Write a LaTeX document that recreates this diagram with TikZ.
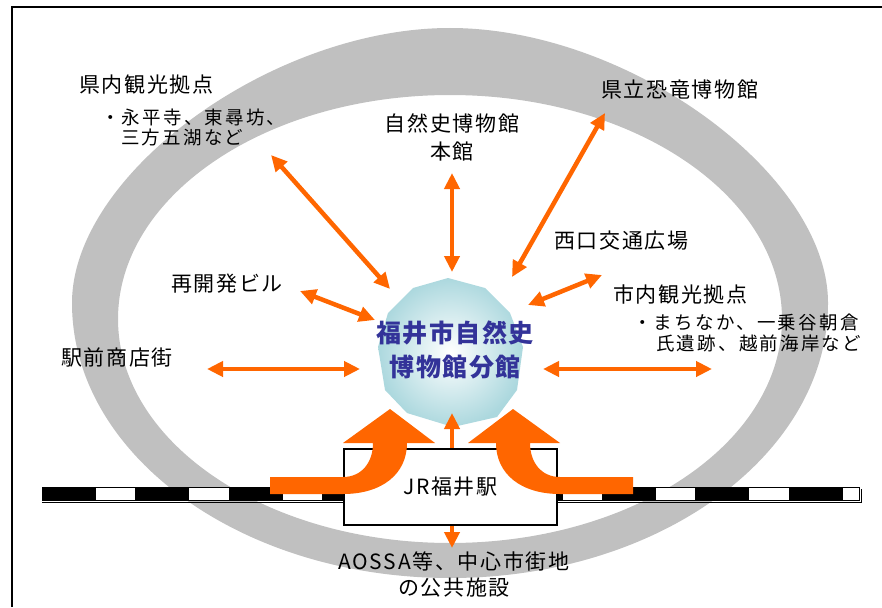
\documentclass[tikz,border=0pt]{standalone}
\usepackage{fontspec}
\setmainfont{Noto Sans CJK JP}
\newfontfamily\jpmain[LetterSpace=8]{Noto Sans CJK JP}
\newfontfamily\jpsub[LetterSpace=12]{Noto Sans CJK JP}
\newfontfamily\jptitle[LetterSpace=6]{Noto Sans CJK JP}
\usetikzlibrary{arrows.meta}
\definecolor{ora}{RGB}{255,102,0}
\definecolor{ringgray}{RGB}{192,192,192}
\definecolor{titleblue}{RGB}{51,51,153}
\definecolor{polyedge}{RGB}{172,216,222}
\tikzset{
  twoway/.style={draw=ora, line width=4.5pt, {Triangle[width=15pt,length=16pt]}-{Triangle[width=15pt,length=16pt]}},
  mainlbl/.style={font=\jpmain\fontsize{21}{24}\selectfont, inner sep=0pt, text=black},
  sublbl/.style={font=\jpsub\fontsize{18.5}{22}\selectfont, inner sep=0pt, text=black},
}
\begin{document}
\begin{tikzpicture}[x=1pt,y=-1pt]
\useasboundingbox (0,0) rectangle (882,607);
\fill[white] (0,0) rectangle (882,607);
% frame
\draw[line width=2pt] (12,607) -- (12,7) -- (882,7);
% ring
\fill[ringgray, even odd rule]
  (72,303) .. controls (72,173.75) and (272.3,28) .. (450,28)
  .. controls (627.7,28) and (828,173.75) .. (828,303)
  .. controls (828,454.9) and (658.8,578) .. (450,578)
  .. controls (241.2,578) and (72,454.9) .. (72,303) -- cycle
  (118,319) .. controls (118,195.3) and (266.6,95) .. (450,95)
  .. controls (633.4,95) and (782,195.3) .. (782,319)
  .. controls (782,442.7) and (633.4,543) .. (450,543)
  .. controls (266.6,543) and (118,442.7) .. (118,319) -- cycle;
% railway
\draw[line width=1pt] (42,502.2) -- (861,502.2) -- (861,489);
\draw[line width=1pt, fill=white] (42,487) rectangle (859,500);
\foreach \k in {0,...,8} {
  \fill[black] ({42+93.33*\k},487) rectangle ({96+93.33*\k},500);
}
% central polygon
\shade[inner color=white, outer color=polyedge]
  (448,278) -- (485,288) -- (510,313) -- (523,347) -- (517,390) -- (497,417) --
  (453,427) -- (407,413) -- (385,390) -- (378,347) -- (388,313) -- (413,288) -- cycle;
% coordinates for connector ends
\coordinate (hubS) at (452,413);
\coordinate (aossaN) at (452,548);
\draw[twoway] (hubS) -- (aossaN);
% station
\node[draw, line width=1.5pt, fill=white, minimum width=213pt, minimum height=76pt, inner sep=0pt,
      font=\jpmain\fontsize{21}{24}\selectfont] (station) at (450.5,487) {JR福井駅};
% curved arrows from the tracks
\fill[ora] (270,477) -- (343,477) .. controls (362,477) and (373,462) .. (373,443) -- (343,443) --
  (390,409) -- (435,443) -- (407,443) .. controls (407,474) and (382,494) .. (343,494) -- (270,494) -- cycle;
\fill[ora] (633,477) -- (560,477) .. controls (541,477) and (530,462) .. (530,443) -- (560,443) --
  (513,409) -- (468,443) -- (496,443) .. controls (496,474) and (521,494) .. (560,494) -- (633,494) -- cycle;
% hub title
\node[font=\jptitle\bfseries\fontsize{25}{34}\selectfont, text=titleblue, align=center, inner sep=0pt]
  (hub) at (455,350) {福井市自然史\\博物館分館};
% labels
\node[mainlbl, anchor=west] (kennai) at (79,85) {県内観光拠点};
\node[sublbl, anchor=west] (kennai1) at (101,117) {・永平寺、東尋坊、};
\node[sublbl, anchor=west] (kennai2) at (121,137) {三方五湖など};
\node[mainlbl] (honkan1) at (452,123) {自然史博物館};
\node[mainlbl] (honkan2) at (452,152) {本館};
\node[mainlbl, anchor=west] (kyoryu) at (601,90) {県立恐竜博物館};
\node[mainlbl, anchor=west] (nishiguchi) at (554,241) {西口交通広場};
\node[mainlbl, anchor=west] (saikaihatsu) at (171,284) {再開発ビル};
\node[mainlbl, anchor=west] (shinai) at (613,294) {市内観光拠点};
\node[sublbl, anchor=west] (shinai1) at (633,322) {・まちなか、一乗谷朝倉};
\node[sublbl, anchor=west] (shinai2) at (656,343) {氏遺跡、越前海岸など};
\node[mainlbl, anchor=west] (ekimae) at (61,358) {駅前商店街};
\node[mainlbl] (aossa1) at (454,561) {AOSSA等、中心市街地};
\node[mainlbl] (aossa2) at (454,588) {の公共施設};
% connector ends
\coordinate (kennaiE) at (271,155);
\coordinate (hubNW) at (390,289);
\coordinate (honkanS) at (452,173);
\coordinate (hubN) at (452,272);
\coordinate (kyoryuE) at (605,113);
\coordinate (hubNE) at (512,277);
\coordinate (nishiE) at (602,275);
\coordinate (hubE1) at (528,305);
\coordinate (saiE) at (300,291);
\coordinate (hubW1) at (375,320);
\coordinate (ekimaeE) at (207,369);
\coordinate (hubW) at (360,369);
\coordinate (hubE) at (543,369);
\coordinate (shinaiW) at (712,369);
\draw[twoway] (kennaiE) -- (hubNW);
\draw[twoway] (honkanS) -- (hubN);
\draw[twoway] (kyoryuE) -- (hubNE);
\draw[twoway] (nishiE) -- (hubE1);
\draw[twoway] (saiE) -- (hubW1);
\draw[twoway] (ekimaeE) -- (hubW);
\draw[twoway] (hubE) -- (shinaiW);
\end{tikzpicture}
\end{document}
